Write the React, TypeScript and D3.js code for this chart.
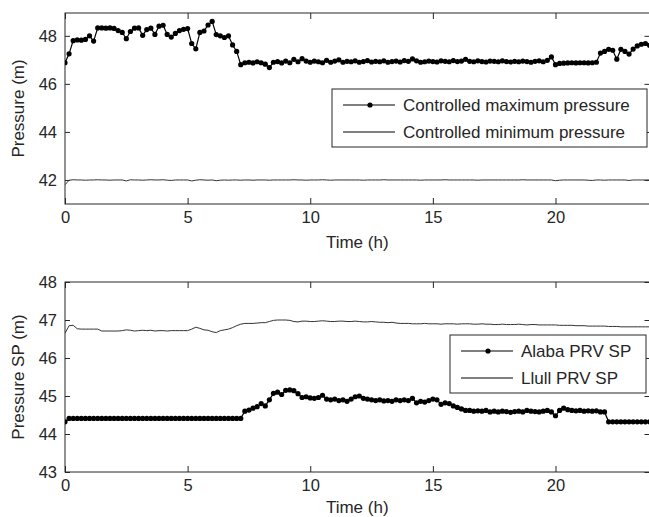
import React, { useRef, useEffect } from "react";
import * as d3 from "d3";

// 10-minute samples over one day (index i -> i/6 hours)
const maxPressure = [
  46.88, 47.25, 47.8, 47.83, 47.82, 47.85, 48.0, 47.78, 48.33, 48.33, 48.32, 48.33,
  48.31, 48.22, 48.14, 47.88, 48.18, 48.32, 48.33, 48.02, 48.26, 48.32, 48.06, 48.4,
  48.44, 48.06, 47.95, 48.1, 48.22, 48.27, 48.3, 47.68, 47.46, 48.14, 48.2, 48.45,
  48.6, 48.05, 48.0, 47.93, 48.0, 47.62, 47.35, 46.8, 46.88, 46.9, 46.87, 46.92,
  46.88, 46.82, 46.68, 46.9, 46.93, 46.87, 46.95, 46.88, 47.02, 46.92, 47.05, 46.95,
  46.9, 46.95, 46.92, 46.88, 46.98, 46.9, 46.95, 47.0, 46.9, 46.94, 46.92, 46.96,
  46.9, 46.93, 46.97, 46.91, 46.94, 46.92, 46.96, 46.9, 46.93, 46.95, 46.91, 46.97,
  46.94, 47.04, 46.96, 46.9, 46.92, 46.95, 46.93, 46.91, 46.96, 46.94, 46.92, 46.97,
  46.93, 46.95, 47.02, 46.94, 46.92, 46.96, 46.93, 46.91, 46.95, 46.94, 46.92, 46.96,
  46.93, 46.91, 46.94, 46.92, 46.95, 46.93, 46.9, 46.94, 46.96, 46.92, 46.98, 47.12,
  46.8, 46.85, 46.86, 46.87, 46.88, 46.87, 46.88, 46.88, 46.87, 46.88, 46.9, 47.28,
  47.35, 47.44, 47.4, 47.03, 47.44, 47.35, 47.24, 47.45, 47.58, 47.65, 47.68, 47.6,
];

const minPressure = [
  41.8, 41.99, 42.01, 42.0, 42.0, 41.99, 42.0, 42.0, 42.01, 42.0, 42.0, 41.99,
  42.0, 42.0, 42.0, 41.96, 42.01, 42.0, 42.0, 41.99, 42.0, 42.01, 42.0, 42.0,
  42.01, 41.99, 41.98, 42.0, 42.0, 42.0, 42.0, 41.96, 41.99, 42.01, 42.0, 41.99,
  42.0, 41.97, 41.99, 42.0, 41.99, 42.0, 42.0, 41.99, 42.0, 42.0, 41.99, 42.0,
  42.0, 42.0, 41.99, 42.0, 42.0, 42.0, 42.0, 42.0, 42.01, 42.0, 42.0, 41.99,
  42.0, 42.0, 42.0, 42.01, 42.0, 41.99, 42.0, 42.0, 42.0, 42.0, 42.0, 42.0,
  42.0, 41.99, 42.0, 42.0, 42.0, 42.0, 42.01, 42.0, 42.0, 42.0, 42.0, 42.0,
  42.0, 42.0, 42.0, 41.99, 42.0, 42.0, 42.0, 42.0, 42.0, 42.01, 42.0, 42.0,
  42.0, 42.0, 42.0, 42.0, 42.0, 41.99, 42.0, 42.0, 42.0, 42.0, 42.0, 42.0,
  42.0, 42.0, 42.0, 42.0, 42.01, 42.0, 42.0, 42.0, 42.0, 42.0, 42.0, 42.0,
  41.97, 41.99, 42.0, 42.0, 42.0, 42.0, 42.0, 42.0, 41.99, 41.98, 42.0, 42.0,
  41.99, 42.0, 42.0, 42.0, 42.0, 42.0, 41.98, 42.0, 42.0, 42.0, 42.0, 42.0,
];

const alabaSP = [
  44.32, 44.41, 44.41, 44.41, 44.41, 44.41, 44.41, 44.41, 44.41, 44.41, 44.41, 44.41,
  44.41, 44.41, 44.41, 44.41, 44.41, 44.41, 44.41, 44.41, 44.41, 44.41, 44.41, 44.41,
  44.41, 44.41, 44.41, 44.41, 44.41, 44.41, 44.41, 44.41, 44.41, 44.41, 44.41, 44.41,
  44.41, 44.41, 44.41, 44.41, 44.41, 44.41, 44.41, 44.41, 44.6, 44.63, 44.68, 44.72,
  44.8, 44.74, 44.9, 45.07, 45.1, 45.04, 45.15, 45.16, 45.14, 45.06, 44.96, 44.98,
  44.95, 44.94, 44.96, 45.02, 44.92, 44.9, 44.92, 44.88, 44.9, 44.86, 44.92, 44.98,
  45.0, 44.94, 44.92, 44.9, 44.88, 44.9, 44.87, 44.88, 44.86, 44.9, 44.88, 44.9,
  44.88, 44.94, 44.82, 44.86, 44.84, 44.88, 44.92, 44.9, 44.78, 44.82, 44.8, 44.74,
  44.7, 44.66, 44.62, 44.62, 44.6, 44.61, 44.6, 44.62, 44.58, 44.6, 44.58, 44.6,
  44.59, 44.57, 44.59, 44.6, 44.58, 44.62, 44.6, 44.59, 44.58, 44.6, 44.62, 44.58,
  44.48, 44.62, 44.68, 44.64, 44.62, 44.61, 44.62, 44.6, 44.61, 44.6, 44.61, 44.58,
  44.58, 44.32, 44.32, 44.32, 44.32, 44.32, 44.32, 44.32, 44.32, 44.32, 44.32, 44.32,
];

const llullSP = [
  46.65, 46.85, 46.86, 46.77, 46.76, 46.76, 46.76, 46.76, 46.76, 46.71, 46.71, 46.71,
  46.71, 46.71, 46.72, 46.74, 46.73, 46.71, 46.72, 46.73, 46.72, 46.73, 46.71, 46.72,
  46.72, 46.71, 46.72, 46.72, 46.72, 46.72, 46.72, 46.76, 46.81, 46.78, 46.74, 46.73,
  46.69, 46.67, 46.72, 46.74, 46.76, 46.8, 46.85, 46.89, 46.91, 46.91, 46.91, 46.92,
  46.93, 46.93, 46.96, 46.99, 47.0, 47.0, 47.0, 46.99, 46.96, 46.95, 46.97, 46.97,
  46.96, 46.96, 46.97, 46.98, 46.97, 46.96, 46.96, 46.97, 46.97, 46.96, 46.96, 46.97,
  46.96, 46.95, 46.95, 46.96, 46.95, 46.94, 46.94, 46.93, 46.94, 46.92, 46.91, 46.91,
  46.91, 46.9, 46.9, 46.9, 46.91, 46.9, 46.9, 46.9, 46.89, 46.9, 46.9, 46.9,
  46.89, 46.9, 46.9, 46.9, 46.89, 46.89, 46.9, 46.89, 46.89, 46.88, 46.88, 46.89,
  46.88, 46.88, 46.88, 46.89, 46.88, 46.87, 46.88, 46.88, 46.87, 46.87, 46.87, 46.87,
  46.87, 46.86, 46.86, 46.86, 46.86, 46.85, 46.85, 46.85, 46.84, 46.84, 46.84, 46.84,
  46.84, 46.83, 46.83, 46.83, 46.82, 46.82, 46.82, 46.82, 46.82, 46.82, 46.82, 46.82,
];

const xTicks = [0, 5, 10, 15, 20];
const topYTicks = [42, 44, 46, 48];
const bottomYTicks = [43, 44, 45, 46, 47, 48];

const W = 649;
const H = 517;
const FONT = "'Liberation Sans', Arial, sans-serif";
const INK = "#262626";
const TICK_FS = 16.5;
const LABEL_FS = 17;

type Pt = [number, number];
const toPoints = (vals: number[]): Pt[] => vals.map((v, i) => [i / 6, v]);

export default function App() {
  const svgRef = useRef<SVGSVGElement | null>(null);

  useEffect(() => {
    if (!svgRef.current) return;
    const svg = d3.select(svgRef.current);
    svg.selectAll("*").remove();

    const x = d3.scaleLinear().domain([0, 143 / 6]).range([65, 649.5]);
    const fmt = d3.format("d");

    const drawPanel = (
      id: string,
      y: d3.ScaleLinear<number, number>,
      yTicks: number[],
      yLabel: string,
      xLabelY: number
    ) => {
      const [x0, x1] = x.range();
      const [yb, yt] = y.range();
      const g = svg.append("g");

      g.append("clipPath")
        .attr("id", id)
        .append("rect")
        .attr("x", x0)
        .attr("y", yt)
        .attr("width", x1 - x0)
        .attr("height", yb - yt);

      const axStyle = (sel: d3.Selection<SVGGElement, unknown, null, undefined>) => {
        sel.select(".domain").remove();
        sel.selectAll("line").attr("stroke", INK);
        sel.selectAll("text").attr("fill", INK).attr("font-family", FONT).attr("font-size", TICK_FS);
      };

      g.append("g")
        .attr("transform", `translate(0,${yb})`)
        .call(d3.axisBottom(x).tickValues(xTicks).tickFormat(fmt as any).tickSizeInner(-6).tickSizeOuter(0).tickPadding(7))
        .call(axStyle);
      g.append("g")
        .attr("transform", `translate(0,${yt})`)
        .call(d3.axisTop(x).tickValues(xTicks).tickSizeInner(-6).tickSizeOuter(0).tickFormat(() => ""))
        .call(axStyle);
      g.append("g")
        .attr("transform", `translate(${x0},0)`)
        .call(d3.axisLeft(y).tickValues(yTicks).tickFormat(fmt as any).tickSizeInner(-5).tickSizeOuter(0).tickPadding(8))
        .call(axStyle);
      g.append("g")
        .attr("transform", `translate(${x1},0)`)
        .call(d3.axisRight(y).tickValues(yTicks).tickSizeInner(-5).tickSizeOuter(0).tickFormat(() => ""))
        .call(axStyle);

      g.append("rect")
        .attr("x", x0)
        .attr("y", yt)
        .attr("width", x1 - x0)
        .attr("height", yb - yt)
        .attr("fill", "none")
        .attr("stroke", INK)
        .attr("stroke-width", 1);

      g.append("text")
        .attr("x", (x0 + x1) / 2)
        .attr("y", xLabelY)
        .attr("text-anchor", "middle")
        .attr("font-family", FONT)
        .attr("font-size", LABEL_FS)
        .attr("fill", INK)
        .text("Time (h)");

      g.append("text")
        .attr("transform", `translate(24,${(yb + yt) / 2}) rotate(-90)`)
        .attr("text-anchor", "middle")
        .attr("font-family", FONT)
        .attr("font-size", LABEL_FS)
        .attr("fill", INK)
        .text(yLabel);

      return g;
    };

    const addLine = (
      g: d3.Selection<SVGGElement, unknown, null, undefined>,
      id: string,
      y: d3.ScaleLinear<number, number>,
      vals: number[],
      withDots: boolean
    ) => {
      const pts = toPoints(vals);
      const line = d3
        .line<Pt>()
        .x((d) => x(d[0]))
        .y((d) => y(d[1]));
      const layer = g.append("g").attr("clip-path", `url(#${id})`);
      layer
        .append("path")
        .datum(pts)
        .attr("fill", "none")
        .attr("stroke", withDots ? "#000" : "#333")
        .attr("stroke-width", withDots ? 1.2 : 1)
        .attr("d", line);
      if (withDots) {
        layer
          .selectAll("circle")
          .data(pts)
          .join("circle")
          .attr("cx", (d) => x(d[0]))
          .attr("cy", (d) => y(d[1]))
          .attr("r", 2.6)
          .attr("fill", "#000");
      }
    };

    const addLegend = (
      bx: number,
      by: number,
      bw: number,
      bh: number,
      labels: string[]
    ) => {
      const lg = svg.append("g");
      lg.append("rect")
        .attr("x", bx)
        .attr("y", by)
        .attr("width", bw)
        .attr("height", bh)
        .attr("fill", "#fff")
        .attr("stroke", INK)
        .attr("stroke-width", 1);
      labels.forEach((label, i) => {
        const cy = by + 16 + i * 27;
        lg.append("line")
          .attr("x1", bx + 11)
          .attr("x2", bx + 63)
          .attr("y1", cy)
          .attr("y2", cy)
          .attr("stroke", "#000")
          .attr("stroke-width", 1);
        if (i === 0) {
          lg.append("circle")
            .attr("cx", bx + 38)
            .attr("cy", cy)
            .attr("r", 2.6)
            .attr("fill", "#000");
        }
        lg.append("text")
          .attr("x", bx + 71)
          .attr("y", cy)
          .attr("dy", "0.35em")
          .attr("font-family", FONT)
          .attr("font-size", LABEL_FS)
          .attr("fill", INK)
          .text(label);
      });
    };

    // top panel
    const yTop = d3.scaleLinear().domain([41, 48.95]).range([204, 13]);
    const gTop = drawPanel("clip-top", yTop, topYTicks, "Pressure (m)", 248);
    addLine(gTop, "clip-top", yTop, minPressure, false);
    addLine(gTop, "clip-top", yTop, maxPressure, true);
    addLegend(332, 89, 315, 58, ["Controlled maximum pressure", "Controlled minimum pressure"]);

    // bottom panel
    const yBot = d3.scaleLinear().domain([43, 48]).range([472, 282]);
    const gBot = drawPanel("clip-bot", yBot, bottomYTicks, "Pressure SP (m)", 513);
    addLine(gBot, "clip-bot", yBot, llullSP, false);
    addLine(gBot, "clip-bot", yBot, alabaSP, true);
    addLegend(450, 335, 196, 58, ["Alaba PRV SP", "Llull PRV SP"]);
  }, []);

  return (
    <svg
      ref={svgRef}
      width={W}
      height={H}
      style={{ position: "absolute", left: 0, top: 0, background: "#fff" }}
    />
  );
}
